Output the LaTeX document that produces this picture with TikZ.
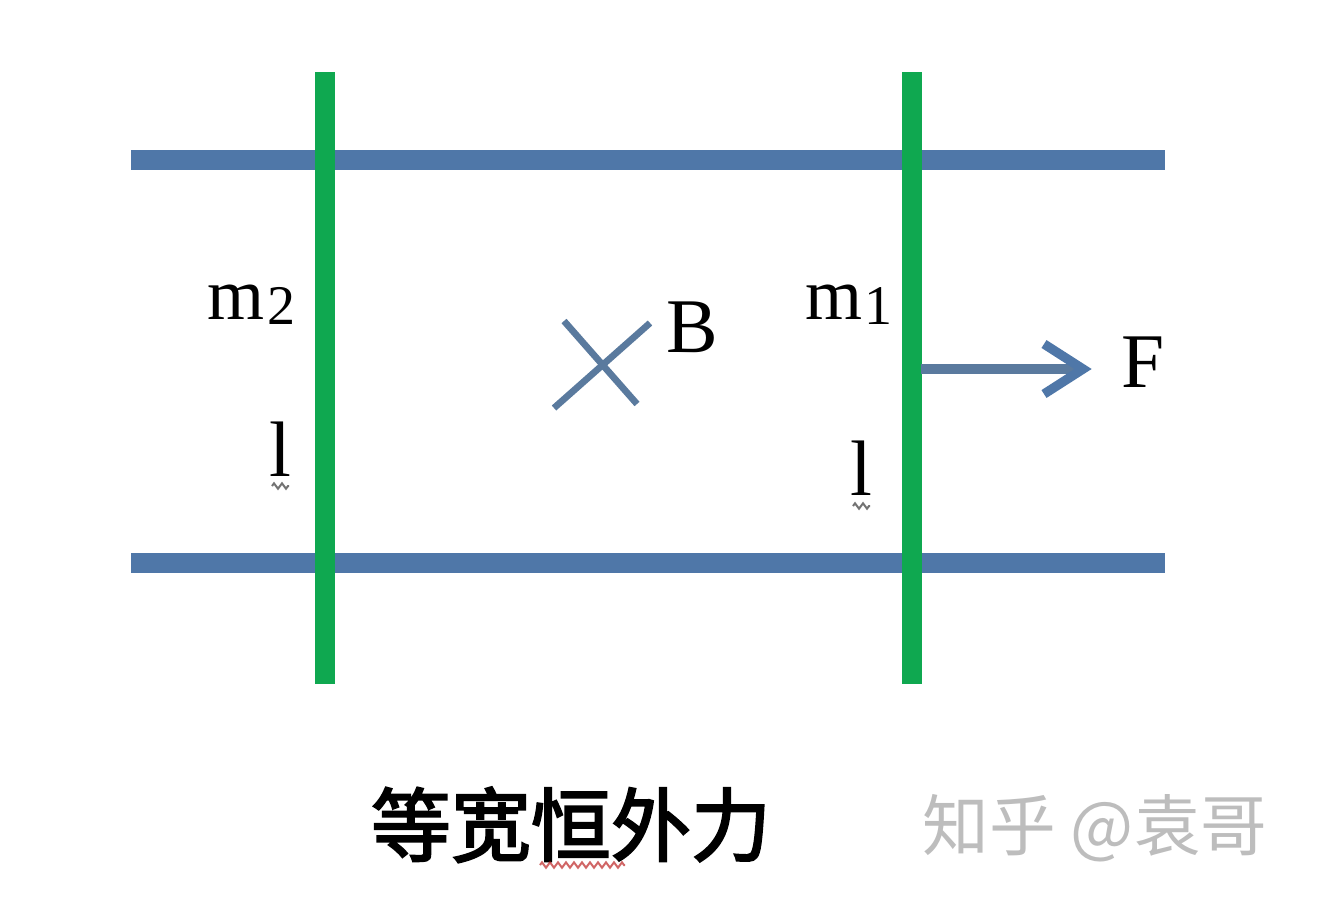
\documentclass[tikz,border=0pt]{standalone}
\usepackage{fontspec}
\setmainfont{Liberation Serif}
\newfontfamily\cjk{Noto Sans CJK SC}
\newfontfamily\cjkcap[FakeBold=2.5]{Noto Sans CJK SC}
\usetikzlibrary{decorations.pathmorphing}
\definecolor{railblue}{HTML}{4F77A8}
\definecolor{bargreen}{HTML}{0FA850}
\definecolor{arrowblue}{HTML}{5A7A9E}
\tikzset{
  rail/.style={draw=railblue,line width=15pt},
  bar/.style={draw=bargreen,line width=15pt},
  lab/.style={inner sep=0pt,anchor=base,text=black},
  lbl/.style={lab,font=\fontsize{58}{58}\selectfont},
  mass/.style={lab,font=\fontsize{55}{55}\selectfont},
  subs/.style={lab,font=\fontsize{42}{42}\selectfont},
  ell/.style={lab,font=\fontsize{59}{59}\selectfont},
  squig/.style={line width=1.5pt,decorate,decoration={zigzag,amplitude=2pt,segment length=6pt}},
}
\begin{document}
\begin{tikzpicture}[x=0.75pt,y=-0.75pt]
\useasboundingbox[fill=white] (0,0) rectangle (1320,922);
% rails
\coordinate (r1a) at (131,160); \coordinate (r1b) at (1165,160);
\coordinate (r2a) at (131,563); \coordinate (r2b) at (1165,563);
\draw[rail] (r1a) -- (r1b);
\draw[rail] (r2a) -- (r2b);
% bars
\coordinate (b2a) at (325,72); \coordinate (b2b) at (325,684);
\coordinate (b1a) at (912,72); \coordinate (b1b) at (912,684);
\draw[bar] (b2a) -- (b2b);
\draw[bar] (b1a) -- (b1b);
% field cross
\coordinate (c1) at (554,408); \coordinate (c2) at (650,323);
\coordinate (c3) at (564,321); \coordinate (c4) at (637,404);
\draw[arrowblue,line width=5pt] (c1) -- (c2);
\draw[arrowblue,line width=5pt] (c3) -- (c4);
% force arrow
\coordinate (fa) at (921,369); \coordinate (fb) at (1083,369);
\coordinate (h1) at (1044,344); \coordinate (h2) at (1044,394);
\draw[arrowblue,line width=7pt] (fa) -- (fb);
\draw[railblue,line width=7pt] (h1) -- (fb) -- (h2);
% labels
\node[lbl] (B) at (692,352) {B};
\node[lbl] (F) at (1143,387) {F};
\node[mass] (m2) at (236.5,319) {m};
\node[subs] (s2) at (281,324) {2};
\node[mass] (m1) at (834,319) {m};
\node[subs] (s1) at (878,324) {1};
\node[ell] (l2) at (280,476) {l};
\node[ell] (l1) at (861,495) {l};
\coordinate (q1) at (272,486); \coordinate (q2) at (289,486);
\coordinate (q3) at (853,506); \coordinate (q4) at (870,506);
\draw[black!55,squig] (q1) -- (q2);
\draw[black!55,squig] (q3) -- (q4);
% caption
\node[lab,font=\cjkcap\fontsize{60}{60}\selectfont] (cap) at (571,855) {等宽恒外力};
\coordinate (q5) at (540,865); \coordinate (q6) at (625,865);
\draw[red!70!black,opacity=.6,squig] (q5) -- (q6);
% watermark
\node[lab,text=black!26,font=\cjk\fontsize{50}{50}\selectfont] (wm) at (1095,850) {知乎 @袁哥};
\end{tikzpicture}
\end{document}
